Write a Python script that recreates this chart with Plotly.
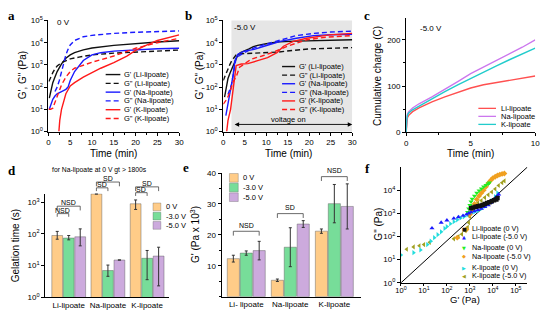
import numpy as np
import plotly.graph_objects as go

FONT = "Liberation Sans"
W, H = 550, 320

def px(x):
    return x / W

def py(y):
    return 1 - y / H

def P(v):
    return list(np.power(10.0, np.array(v)))

# ---------------- panel a : 0 V (log10 Pa readings) ----------------
a_li_gp_t = [0.2, 0.5, 1, 1.5, 2, 3, 4, 5, 6, 8, 10, 15, 20, 25, 30]
a_li_gp = [1.5, 1.8, 2.2, 2.45, 2.7, 3.05, 3.3, 3.45, 3.55, 3.68, 3.76, 3.88, 3.97, 4.03, 4.09]
a_li_gpp_t = [0.1, 0.5, 1, 1.5, 2, 3, 4, 5, 7, 10, 15, 20, 25, 30]
a_li_gpp = [2.25, 2.45, 2.65, 2.83, 2.95, 3.1, 3.2, 3.27, 3.35, 3.45, 3.53, 3.58, 3.63, 3.67]
a_na_gp_t = [0.2, 0.5, 1, 1.5, 2, 3, 4, 4.5, 5, 6, 7, 8, 10, 12, 15, 20, 25, 30]
a_na_gp = [1.0, 1.2, 1.45, 1.6, 1.7, 1.8, 1.9, 2.0, 2.3, 2.7, 2.95, 3.2, 3.45, 3.55, 3.62, 3.68, 3.73, 3.75]
a_na_gpp_t = [1.5, 2, 2.5, 3, 3.5, 4, 4.5, 5, 6, 7, 8, 10, 15, 20, 25, 30]
a_na_gpp = [1.8, 2.0, 2.3, 2.7, 3.1, 3.45, 3.7, 3.9, 4.1, 4.2, 4.27, 4.33, 4.42, 4.47, 4.5, 4.53]
a_k_gp_t = [2.4, 2.6, 3, 3.5, 4, 5, 6, 8, 10, 12, 15, 18, 20, 22, 25, 28, 30]
a_k_gp = [0, 0.5, 1.0, 1.4, 1.7, 2.05, 2.2, 2.45, 2.65, 2.85, 3.1, 3.4, 3.65, 3.85, 4.1, 4.25, 4.35]
a_k_gpp_t = [0, 0.5, 1, 1.5, 2, 3, 4, 5, 6, 8, 10, 15, 20, 25, 30]
a_k_gpp = [1.0, 1.0, 1.05, 1.3, 1.6, 2.1, 2.45, 2.7, 2.85, 3.0, 3.12, 3.4, 3.75, 4.0, 4.2]

# ---------------- panel b : -5.0 V ----------------
b_li_gp_t = [0.3, 0.7, 1.1, 1.6, 2.3, 3, 3.4, 4, 5, 6, 7, 8, 10, 13, 17, 21, 25, 30]
b_li_gp = [1.55, 2.0, 2.39, 2.65, 2.97, 3.3, 3.45, 3.55, 3.62, 3.72, 3.82, 3.88, 3.95, 4.04, 4.07, 4.09, 4.11, 4.13]
b_li_gpp_t = [0, 0.5, 1, 1.5, 2, 3, 4, 6, 8, 10, 13, 16, 20, 25, 30]
b_li_gpp = [2.3, 2.55, 2.8, 3.0, 3.2, 3.45, 3.5, 3.52, 3.55, 3.56, 3.58, 3.65, 3.72, 3.75, 3.78]
b_na_gp_t = [0.6, 1.1, 1.9, 2.3, 2.7, 3.4, 4.9, 7.2, 9.5, 13.3, 17, 21, 25, 30]
b_na_gp = [0.72, 1.3, 2.03, 2.54, 3.19, 3.48, 3.62, 3.7, 3.84, 4.06, 4.2, 4.32, 4.36, 4.38]
b_na_gpp_t = [1.1, 1.9, 2.5, 3, 4.9, 7.2, 9.5, 13.3, 17, 21, 25, 30]
b_na_gpp = [1.67, 2.1, 2.75, 3.33, 3.55, 3.77, 3.91, 4.13, 4.32, 4.42, 4.48, 4.52]
b_k_gp_t = [0.8, 1.1, 1.7, 2.0, 2.3, 2.7, 3, 4.2, 5.7, 8, 10.3, 12.5, 14, 16.3, 19.4, 24.7, 30]
b_k_gp = [0, 0.5, 1.0, 1.45, 2.03, 2.75, 2.97, 3.04, 3.06, 3.19, 3.33, 3.55, 3.84, 4.06, 4.2, 4.35, 4.42]
b_k_gpp_t = [0, 0.8, 1.5, 2.3, 3, 3.8, 4.9, 6.5, 9, 12, 15, 19.4, 24, 30]
b_k_gpp = [1.23, 1.45, 1.74, 2.25, 2.46, 2.9, 3.04, 3.26, 3.4, 3.6, 3.85, 4.13, 4.25, 4.32]
b_voltage_on_start = 1.9
b_arrow_start = 2.3
b_arrow_end = 30

# ---------------- panel c : cumulative charge ----------------
c_li_t = [0, 0.02, 0.05, 0.1, 0.2, 0.5, 1, 1.5, 2, 3, 4, 5, 6, 7, 8, 9, 10]
c_li_q = [0, 15, 25, 32, 37, 45, 53, 60, 66, 77, 87, 96, 103, 108, 112, 117, 122]
c_na_t = [0, 0.02, 0.05, 0.1, 0.2, 0.5, 1, 2, 3, 4, 5, 6, 7, 8, 9, 10]
c_na_q = [0, 20, 32, 40, 45, 53, 62, 77, 93, 110, 127, 141, 155, 169, 184, 200]
c_k_t = [0, 0.02, 0.05, 0.1, 0.2, 0.5, 1, 2, 3, 4, 5, 6, 7, 8, 9, 10]
c_k_q = [0, 18, 29, 37, 42, 49, 57, 72, 88, 103, 117, 131, 144, 157, 170, 182]

# ---------------- panel d : gelation time (s) ----------------
salts = ["Li-lipoate", "Na-lipoate", "K-lipoate"]
d_0v = [89, 1820, 890]
d_0v_up = [31, 0, 285]
d_0v_dn = [21, 0, 300]
d_3v = [74, 7, 17]
d_3v_up = [15, 3.4, 13]
d_3v_dn = [9, 2.4, 13.4]
d_5v = [81, 15, 20]
d_5v_up = [63, 0, 18]
d_5v_dn = [39, 0, 17.7]

# ---------------- panel e : G' (Pa x 10^3) ----------------
e_labels = ["Li- lipoate", "Na-lipoate", "K-lipoate"]
e_0v = [12.3, 5.3, 21.2]
e_0v_err = [1.1, 0.4, 0.7]
e_3v = [14.1, 16.0, 30.1]
e_3v_err = [0.7, 6.3, 6.2]
e_5v = [14.9, 23.5, 29.2]
e_5v_err = [3.0, 1.1, 7.3]

# ---------------- panel f : G'' vs G' (log10 Pa) ----------------
f_li0_x = [3.05, 3.15, 3.25, 3.35, 3.45, 3.55, 3.65, 3.75, 3.85, 3.95, 4.05, 4.15, 4.2]
f_li0_y = [3.22, 3.25, 3.28, 3.3, 3.33, 3.36, 3.4, 3.44, 3.48, 3.52, 3.56, 3.6, 3.66]
f_li5_x = [1.35, 1.75, 2.0, 2.3, 2.5, 2.7, 2.85, 2.95, 3.05, 3.2, 3.35, 3.5, 3.65, 3.8, 3.9, 4.0, 4.1, 4.2, 4.25]
f_li5_y = [2.36, 2.6, 2.7, 2.78, 2.84, 2.9, 2.95, 3.0, 3.05, 3.1, 3.15, 3.2, 3.28, 3.35, 3.45, 3.55, 3.65, 3.75, 3.82]
f_na0_x = [2.9, 2.95, 3.0, 3.05, 3.1, 3.2, 3.3, 3.4, 3.5, 3.6, 3.7, 3.8, 3.85]
f_na0_y = [3.05, 3.2, 3.35, 3.5, 3.62, 3.75, 3.88, 3.98, 4.07, 4.15, 4.22, 4.28, 4.32]
f_na5_x = [2.45, 2.85, 3.0, 3.1, 3.2, 3.3, 3.4, 3.5, 3.6, 3.7, 3.8, 3.9, 4.0, 4.1, 4.2, 4.3, 4.4, 4.5]
f_na5_y = [1.95, 2.3, 2.95, 3.15, 3.4, 3.6, 3.75, 3.88, 4.0, 4.15, 4.3, 4.42, 4.52, 4.58, 4.63, 4.67, 4.7, 4.72]
f_k0_x = [0.0, 0.55, 0.85, 1.15, 1.3, 1.45, 1.6, 1.75, 1.9, 2.0, 2.15, 2.3, 2.45, 2.6, 2.75, 2.9, 3.05, 3.2, 3.35, 3.5, 3.65, 3.8, 3.95, 4.1, 4.2]
f_k0_y = [1.2, 1.3, 1.42, 1.65, 1.8, 1.95, 2.08, 2.2, 2.35, 2.43, 2.55, 2.64, 2.72, 2.8, 2.86, 2.93, 3.0, 3.06, 3.12, 3.2, 3.3, 3.42, 3.55, 3.72, 3.88]
f_k5_x = [0.25, 0.55, 0.8, 1.0, 1.25, 2.3, 2.5, 2.65, 2.8, 2.9, 2.95, 3.0, 3.05, 3.2, 3.35, 3.5, 3.65, 3.8, 3.95, 4.1, 4.25, 4.4, 4.5]
f_k5_y = [1.45, 1.55, 1.6, 1.65, 1.75, 1.9, 2.0, 2.1, 2.25, 2.4, 2.6, 2.85, 3.05, 3.3, 3.45, 3.55, 3.68, 3.8, 3.92, 4.05, 4.2, 4.32, 4.4]
f_diag_x = [1, 3.2e5]
f_diag_y = [1, 1.0e5]

BLACK, BLUE, RED = "#111111", "#1a1aff", "#ff1a1a"
C_LI, C_NA, C_K = "#ff5050", "#cc77ee", "#22cccc"
B_0, B_3, B_5 = "#ffcc88", "#77dd99", "#ccaadd"
DASH = "5px,3px"

fig = go.Figure()

def line(xa, ya, t, v, color, dash=None, log=True):
    fig.add_trace(go.Scatter(x=t, y=P(v) if log else v, mode="lines", xaxis=xa, yaxis=ya,
                             line=dict(color=color, width=1.4, dash=dash or "solid"),
                             showlegend=False, hoverinfo="skip"))

# panel a
line("x", "y", a_li_gp_t, a_li_gp, BLACK)
line("x", "y", a_li_gpp_t, a_li_gpp, BLACK, DASH)
line("x", "y", a_na_gp_t, a_na_gp, BLUE)
line("x", "y", a_na_gpp_t, a_na_gpp, BLUE, DASH)
line("x", "y", a_k_gp_t, a_k_gp, RED)
line("x", "y", a_k_gpp_t, a_k_gpp, RED, DASH)
# panel b
line("x2", "y2", b_li_gp_t, b_li_gp, BLACK)
line("x2", "y2", b_li_gpp_t, b_li_gpp, BLACK, DASH)
line("x2", "y2", b_na_gp_t, b_na_gp, BLUE)
line("x2", "y2", b_na_gpp_t, b_na_gpp, BLUE, DASH)
line("x2", "y2", b_k_gp_t, b_k_gp, RED)
line("x2", "y2", b_k_gpp_t, b_k_gpp, RED, DASH)
# panel c
line("x3", "y3", c_li_t, c_li_q, C_LI, log=False)
line("x3", "y3", c_na_t, c_na_q, C_NA, log=False)
line("x3", "y3", c_k_t, c_k_q, C_K, log=False)

# panel d bars
for vals, up, dn, col in [(d_0v, d_0v_up, d_0v_dn, B_0), (d_3v, d_3v_up, d_3v_dn, B_3), (d_5v, d_5v_up, d_5v_dn, B_5)]:
    fig.add_trace(go.Bar(x=salts, y=vals, xaxis="x4", yaxis="y4", marker=dict(color=col, line=dict(color="rgba(90,90,90,0.55)", width=0.8)),
                         error_y=dict(type="data", array=up, arrayminus=dn, color="#333", thickness=1, width=1.5),
                         showlegend=False, hoverinfo="skip"))
# panel e bars
for vals, err, col in [(e_0v, e_0v_err, B_0), (e_3v, e_3v_err, B_3), (e_5v, e_5v_err, B_5)]:
    fig.add_trace(go.Bar(x=e_labels, y=vals, xaxis="x5", yaxis="y5", marker=dict(color=col, line=dict(color="rgba(90,90,90,0.55)", width=0.8)),
                         error_y=dict(type="data", array=err, color="#333", thickness=1, width=1.5),
                         showlegend=False, hoverinfo="skip"))

# panel f
fig.add_trace(go.Scatter(x=f_diag_x, y=f_diag_y, mode="lines", xaxis="x6", yaxis="y6",
                         line=dict(color="black", width=1), showlegend=False, hoverinfo="skip"))
F_SER = [
    (f_k5_x, f_k5_y, "#a0a020", "triangle-left"),
    (f_k0_x, f_k0_y, "#22dddd", "triangle-right"),
    (f_na5_x, f_na5_y, "#f0a020", "diamond"),
    (f_na0_x, f_na0_y, "#22ee22", "triangle-down"),
    (f_li5_x, f_li5_y, "#1a1aff", "triangle-up"),
    (f_li0_x, f_li0_y, "#111111", "square"),
]
for xs, ys, col, sym in F_SER:
    fig.add_trace(go.Scatter(x=P(xs), y=P(ys), mode="markers", xaxis="x6", yaxis="y6",
                             marker=dict(color=col, symbol=sym, size=4.5, line=dict(width=0)),
                             showlegend=False, hoverinfo="skip"))

TICKF = dict(family=FONT, size=8, color="black")

def ax_common(**kw):
    d = dict(showline=True, linecolor="black", linewidth=1, ticks="outside", ticklen=3, tickwidth=1,
             tickcolor="black", showgrid=False, zeroline=False, tickfont=TICKF, fixedrange=True)
    d.update(kw)
    return d

def dom_x(x0, x1):
    return [px(x0), px(x1)]

def dom_y(ytop, ybot):
    return [py(ybot), py(ytop)]

logvals5 = [1, 10, 100, 1000, 1e4, 1e5]
logtext5 = ["10<sup>%d</sup>" % i for i in range(6)]

layout = dict(
    width=W, height=H, margin=dict(l=0, r=0, t=0, b=0), paper_bgcolor="white", plot_bgcolor="rgba(0,0,0,0)",
    barmode="group", bargap=0.12, bargroupgap=0.06, showlegend=False,
    xaxis=ax_common(domain=dom_x(43.3, 176.7), range=[0, 30], anchor="y", tickvals=[0, 5, 10, 15, 20, 25, 30],
                    minor=dict(dtick=2.5, ticklen=2, ticks="outside", tickcolor="black")),
    yaxis=ax_common(domain=dom_y(15, 130), type="log", range=[0, 5], anchor="x", tickvals=logvals5, ticktext=logtext5),
    xaxis2=ax_common(domain=dom_x(221.7, 353.3), range=[0, 30], anchor="y2", tickvals=[0, 5, 10, 15, 20, 25, 30],
                     minor=dict(dtick=2.5, ticklen=2, ticks="outside", tickcolor="black")),
    yaxis2=ax_common(domain=dom_y(15, 130), type="log", range=[0, 5], anchor="x2", tickvals=logvals5, ticktext=logtext5),
    xaxis3=ax_common(domain=dom_x(408.3, 540), range=[0, 10], anchor="y3", tickvals=[0, 5, 10],
                     minor=dict(dtick=2.5, ticklen=2, ticks="outside", tickcolor="black")),
    yaxis3=ax_common(domain=dom_y(12, 131), range=[0, 248], anchor="x3", tickvals=[0, 100, 200],
                     minor=dict(dtick=50, ticklen=2, ticks="outside", tickcolor="black")),
    xaxis4=ax_common(domain=dom_x(40, 166), range=[-0.6, 2.55], anchor="y4", ticks=""),
    yaxis4=ax_common(domain=dom_y(194.3, 301.7), type="log", range=[0, 3.27], anchor="x4",
                     tickvals=[1, 10, 100, 1000], ticktext=logtext5[:4]),
    xaxis5=ax_common(domain=dom_x(220, 362), range=[-0.56, 2.6], anchor="y5", ticks=""),
    yaxis5=ax_common(domain=dom_y(173, 301), range=[0, 40], anchor="x5", tickvals=[10, 20, 30, 40],
                     minor=dict(dtick=5, ticklen=2, ticks="outside", tickcolor="black")),
    xaxis6=ax_common(domain=dom_x(403, 532), type="log", range=[0, 5.5], anchor="y6", tickvals=logvals5, ticktext=logtext5,
                     tickfont=dict(family=FONT, size=7.5, color="black"), ticklen=2, ticklabelstandoff=-2),
    yaxis6=ax_common(domain=dom_y(166.7, 286.7), type="log", range=[0, 5.0], anchor="x6",
                     tickvals=[1, 10, 100, 1000, 1e4], ticktext=logtext5[:5]),
)
fig.update_layout(**layout)

shapes = []
ann = []

def text(x, y, s, size=8, xanchor="center", angle=0, bold=False, family=FONT, color="black", pad=1):
    ann.append(dict(x=px(x), y=py(y), xref="paper", yref="paper", text=("<b>%s</b>" % s) if bold else s,
                    showarrow=False, xanchor=xanchor, yanchor="middle", textangle=angle, borderpad=pad,
                    font=dict(family=family, size=size, color=color)))

# panel b gray shading
shapes.append(dict(type="rect", xref="x2", yref="y2 domain", x0=b_voltage_on_start, x1=30, y0=0, y1=1,
                   fillcolor="#e6e6e6", line=dict(width=0), layer="below"))
# voltage on arrow
ann.append(dict(xref="x2", yref="y2 domain", x=b_arrow_end, y=0.064, axref="x2", ayref="pixel", ax=b_arrow_start, ay=0,
                showarrow=True, arrowhead=2, arrowside="end+start", arrowsize=1, arrowwidth=0.9, arrowcolor="black", text=""))
text(288.7, 118, "voltage on", size=7.5)

# panel letters
for x, y, s in [(6, 10, "a"), (186, 10, "b"), (368, 10, "c"), (6, 170, "d"), (184, 167, "e"), (369, 168, "f")]:
    text(x, y, s, size=13, bold=True, family="Liberation Serif")

# axis titles
text(17, 72, "G', G\" (Pa)", size=10, angle=-90)
text(110, 153, "Time (min)", size=10)
text(197, 72, "G', G\" (Pa)", size=10, angle=-90)
text(288, 153, "Time (min)", size=10)
text(379, 72, "Cumulative charge (C)", size=10, angle=-90)
text(474, 153, "Time (min)", size=10)
text(10, 248, "Gelation time (s)", size=10, angle=-90)
text(193, 237, "G' (Pa x 10<sup>3</sup>)", size=10, angle=-90)
text(380, 226, "G\" (Pa)", size=10, angle=-90)
text(468, 304, "G' (Pa)", size=9.5)

# in-panel labels
text(50, 17, "0 V", size=8, xanchor="left")
text(231, 22, "-5.0 V", size=8, xanchor="left")
text(420, 23, "-5.0 V", size=8, xanchor="left")
text(95, 170, "for Na-lipoate at 0 V gt > 1800s", size=6.8)

# legends a & b
leg_items = [(BLACK, None, "G' (Li-lipoate)"), (BLACK, DASH, "G\" (Li-lipoate)"), (BLUE, None, "G' (Na-lipoate)"),
             (BLUE, DASH, "G\" (Na-lipoate)"), (RED, None, "G' (K-lipoate)"), (RED, DASH, "G\" (K-lipoate)")]
for (lx0, lx1, tx, ty0, dy) in [(101.7, 116.7, 118.5, 71, 9.1), (281.7, 295, 296.7, 62.7, 8.9)]:
    for i, (col, dash, lab) in enumerate(leg_items):
        yy = ty0 + i * dy
        shapes.append(dict(type="line", xref="paper", yref="paper", x0=px(lx0), x1=px(lx1), y0=py(yy), y1=py(yy),
                           line=dict(color=col, width=1.4, dash=dash or "solid")))
        text(tx, yy, lab, size=7.5, xanchor="left")
# legend c
for i, (col, lab) in enumerate([(C_LI, "Li-lipoate"), (C_NA, "Na-lipoate"), (C_K, "K-lipoate")]):
    yy = 106 + i * 8.3
    shapes.append(dict(type="line", xref="paper", yref="paper", x0=px(482), x1=px(500), y0=py(yy), y1=py(yy),
                       line=dict(color=col, width=1.3)))
    text(503, yy, lab, size=7.5, xanchor="left")
# legends d & e
for (sx, tx, ty0, dy, sz) in [(150, 161, 208, 9.6, 8), (228, 240, 178, 10, 9)]:
    for i, (col, lab) in enumerate([(B_0, "0 V"), (B_3, "-3.0 V"), (B_5, "-5.0 V")]):
        yy = ty0 + i * dy
        shapes.append(dict(type="rect", xref="paper", yref="paper", x0=px(sx), x1=px(sx + sz), y0=py(yy + sz / 2), y1=py(yy - sz / 2),
                           fillcolor=col, line=dict(color="rgba(90,90,90,0.55)", width=0.6)))
        text(tx, yy, lab, size=7.5, xanchor="left")
# legend f
f_leg = [("#111111", "\u25a0", "Li-lipoate (0 V)", 230.5), ("#1a1aff", "\u25b2", "Li-lipoate (-5.0 V)", 239),
         ("#22ee22", "\u25bc", "Na-lipoate (0 V)", 250.5), ("#f0a020", "\u25c6", "Na-lipoate (-5.0 V)", 259),
         ("#22dddd", "\u25b6", "K-lipoate (0 V)", 271), ("#a0a020", "\u25c0", "K-lipoate (-5.0 V)", 279.5)]
for col, sym, lab, yy in f_leg:
    text(467.5, yy, sym, size=5, color=col, family="DejaVu Sans", pad=0)
    text(474, yy, lab, size=7.2, xanchor="left", pad=0)

# brackets (d: x4 data coords, e: x5 data coords)
SLOT_D = (1 - 0.12) / 3
def bracket(xref, xa, xb, ytop, legs, lab, ty, axis_px0, px_per_unit, xoff):
    shapes.append(dict(type="path", xref=xref, yref="paper",
                       path="M %f,%f L %f,%f L %f,%f L %f,%f" % (xa, py(ytop + legs), xa, py(ytop), xb, py(ytop), xb, py(ytop + legs)),
                       line=dict(color="#444", width=0.8)))
    cx = axis_px0 + ((xa + xb) / 2 - xoff) * px_per_unit
    text(cx, ty, lab, size=7, pad=0)

for cat, rows in [(0, [(2, 207.3, 4.4, "NSD", 203.5), (1, 215, 3.3, "NSD", 211.3)]),
                  (1, [(2, 182.3, 4.4, "SD", 178.5), (1, 188.3, 3.4, "SD", 184.6)]),
                  (2, [(2, 187.3, 4.4, "SD", 183.5), (1, 193.3, 3.4, "SD", 189.6)])]:
    for j, ytop, legs, lab, ty in rows:
        xa = cat - SLOT_D
        xb = cat + (j - 1) * SLOT_D
        bracket("x4", xa, xb, ytop, legs, lab, ty, 40, 126 / 3.15, -0.6)
for cat, ytop, lab, ty in [(0, 233.3, "NSD", 227.3), (1, 215, "SD", 208.7), (2, 176.7, "NSD", 170.3)]:
    bracket("x5", cat - SLOT_D, cat + SLOT_D, ytop, 4.5, lab, ty, 220, 142 / 3.16, -0.56)

fig.update_layout(shapes=shapes, annotations=ann)
fig.write_html("out.html", config={"displayModeBar": False, "staticPlot": True},
               post_script="document.body.style.margin='0';document.body.style.padding='0';")
